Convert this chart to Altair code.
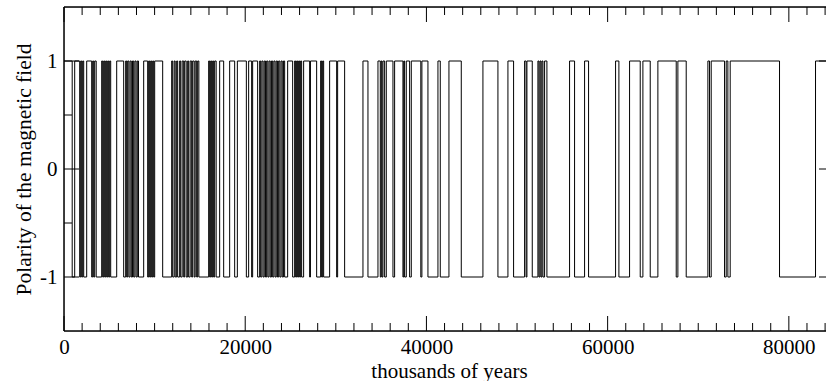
import altair as alt
import pandas as pd

# ---- data (thousands of years at which the polarity flips) ----
transitions = [
    905, 1181, 1732, 1843, 1953, 2063, 2174, 2505, 3056, 3167, 3277, 3387, 3553,
    4160, 4270, 4381, 4491, 4601, 4712, 4822, 4932, 5043, 5153,
    5815, 6587,
    6808, 6918, 7029, 7161, 7293, 7426, 7558, 7691, 7823, 7956, 8088, 8220,
    8794,
    9235, 9346, 9456, 9566, 9677, 9787, 9897, 10008,
    10891,
    11884, 11994, 12159, 12270, 12435, 12546, 12766, 12877, 13042, 13208, 13318,
    13484, 13649, 13759, 13925, 14090, 14201, 14366, 14477, 14642, 14753, 14885,
    15966, 16077, 16187, 16297, 16408, 16518, 16628, 16794,
    17180, 17622, 18284, 18836, 19133, 20126, 20380, 20711, 20821, 21373,
    21594, 21704, 21836, 21969, 22101, 22234, 22366, 22499, 22631, 22763, 22896,
    23028, 23161, 23293, 23425, 23558, 23690, 23823, 23955, 24087, 24220, 24352,
    24683, 25235,
    25456, 25566, 25677, 25787, 25897, 26008, 26118, 26228,
    26448, 27111, 27199, 27884,
    28325, 28435, 28546, 28656,
    29317, 30091, 30201, 30973,
    32996, 33548, 34651, 34908, 35011, 35099, 35203, 35387, 35570, 36306, 36490,
    37409, 37500, 37593, 37777, 38145, 38329,
    39380, 39500, 40168,
    41271, 41529, 42485, 43846, 46237, 47892, 48995, 49620,
    50834, 51000, 51092, 51680,
    52305, 52416, 52530, 52640, 52750, 52860, 53041, 53298,
    55799, 56351, 57455, 57896, 60875, 61243, 62420, 63597, 63891, 64700, 65546,
    67569, 67753, 68672, 71063, 71247, 71431, 72902, 73086, 73270, 73527,
    78971, 82943,
]
final_polarity = 1
x_end = 84100

x_major = [0, 20000, 40000, 60000, 80000]
x_minor = [2000, 4000, 6000, 8000, 10000, 12000, 14000, 16000, 18000,
           22000, 24000, 26000, 28000, 30000, 32000, 34000, 36000, 38000,
           42000, 44000, 46000, 48000, 50000, 52000, 54000, 56000, 58000,
           62000, 64000, 66000, 68000, 70000, 72000, 74000, 76000, 78000,
           82000, 84000]
y_major = [-1, 0, 1]
y_minor = [-0.5, 0.5]

W, H = 762, 324
FONT = "Liberation Serif"

# build the step series
n = len(transitions)
start = final_polarity if n % 2 == 0 else -final_polarity
times = [0] + transitions + [x_end]
pols = []
p = start
for i in range(n + 1):
    pols.append(p)
    p = -p
pols.append(pols[-1])
df = pd.DataFrame({"t": times, "p": pols})

xscale = alt.Scale(domain=[0, x_end], nice=False, zero=False)
yscale = alt.Scale(domain=[-1.5, 1.5], nice=False, zero=False)

xaxis = alt.Axis(
    values=x_major, format="d", labelFont=FONT, labelFontSize=21, labelColor="black",
    ticks=False, tickSize=0, domain=False, grid=False, labelPadding=22,
    labelBaseline="alphabetic", labelFlush=False, labelOverlap=False,
    title="thousands of years", titleFont=FONT, titleFontSize=21,
    titleFontWeight="normal", titleColor="black", titleX=385, titleY=46,
    titleBaseline="alphabetic", titleAlign="center",
)
yaxis = alt.Axis(
    values=y_major, labelExpr="datum.value < 0 ? '-' + abs(datum.value) : '' + datum.value",
    labelFont=FONT, labelFontSize=21, labelColor="black",
    ticks=False, tickSize=0, domain=False, grid=False, labelPadding=7,
    labelBaseline="middle",
    title="Polarity of the magnetic field", titleFont=FONT, titleFontSize=21.5,
    titleFontWeight="normal", titleColor="black", titleX=-34, titleY=H / 2,
    titleAngle=270, titleBaseline="alphabetic", titleAlign="center",
)

line = alt.Chart(df).mark_line(
    interpolate="step-after", color="black", strokeWidth=1, clip=True
).encode(
    x=alt.X("t:Q", scale=xscale, axis=xaxis),
    y=alt.Y("p:Q", scale=yscale, axis=yaxis),
)

frame_df = pd.DataFrame({"k": [0]})
spine_style = dict(color="black", strokeWidth=1.5)
top_spine = alt.Chart(frame_df).mark_rule(**spine_style).encode(
    x=alt.value(0), x2=alt.value(W), y=alt.value(0))
bottom_spine = alt.Chart(frame_df).mark_rule(**spine_style).encode(
    x=alt.value(0), x2=alt.value(W), y=alt.value(H))
left_spine = alt.Chart(frame_df).mark_rule(**spine_style).encode(
    x=alt.value(0), y=alt.value(0), y2=alt.value(H))

xmaj_df = pd.DataFrame({"t": x_major})
xmin_df = pd.DataFrame({"t": x_minor})
ymaj_df = pd.DataFrame({"p": y_major})
ymin_df = pd.DataFrame({"p": y_minor})
tick_style = dict(color="black", strokeWidth=1)


def xt(df_, y0, y1):
    return alt.Chart(df_).mark_rule(**tick_style).encode(
        x=alt.X("t:Q", scale=xscale, axis=xaxis), y=alt.value(y0), y2=alt.value(y1))


def yt(df_, x0, x1):
    return alt.Chart(df_).mark_rule(**tick_style).encode(
        y=alt.Y("p:Q", scale=yscale, axis=yaxis), x=alt.value(x0), x2=alt.value(x1))


ticks = [
    xt(xmaj_df, H, H - 15), xt(xmin_df, H, H - 8),
    xt(xmaj_df, 0, 15), xt(xmin_df, 0, 8),
    yt(ymaj_df, 0, 15), yt(ymin_df, 0, 8),
    yt(ymaj_df, W - 7, W),
]

chart = alt.layer(line, top_spine, bottom_spine, left_spine, *ticks).properties(
    width=W, height=H,
    autosize=alt.AutoSizeParams(type="none"),
    padding={"left": 64, "top": 7, "right": 0, "bottom": 50},
).configure_view(stroke=None).configure(background="white")

chart.save("out.html", embed_options={"renderer": "svg", "actions": False})
